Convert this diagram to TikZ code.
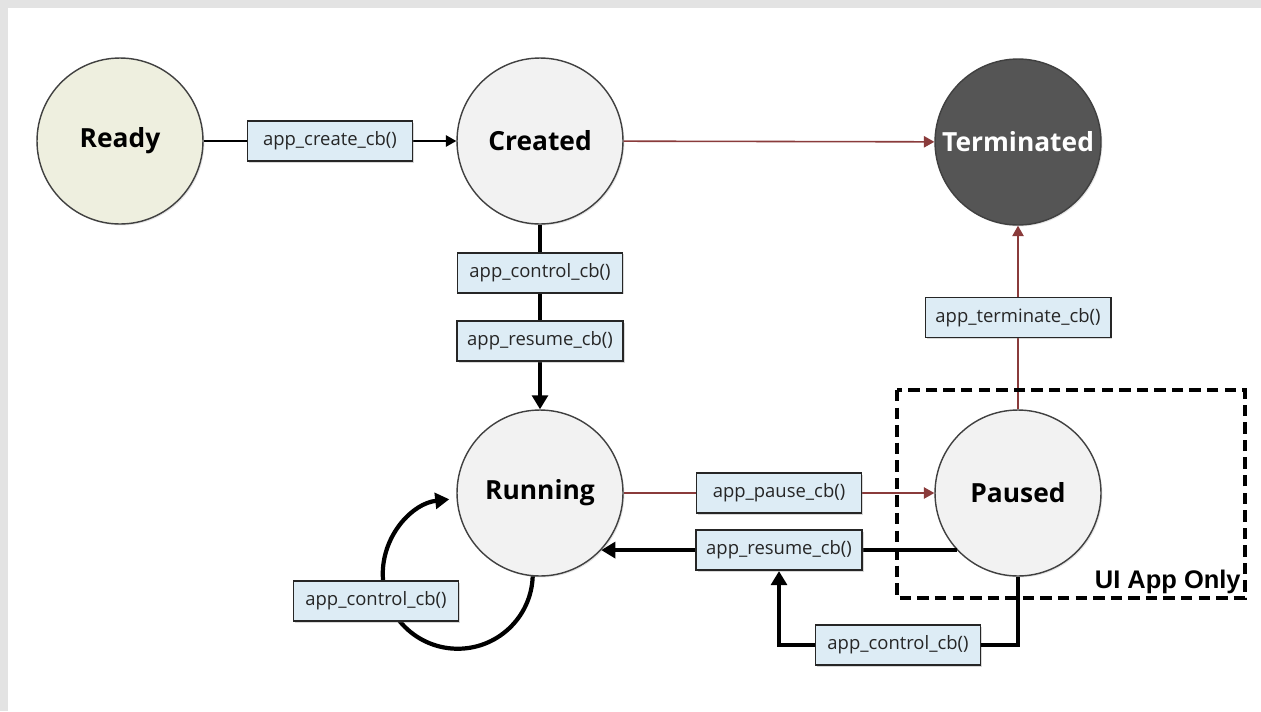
\documentclass[tikz,border=0pt]{standalone}
\usepackage{fontspec}
\newfontfamily\opensans{Open Sans}
\newfontfamily\arialfont{Liberation Sans}
\usetikzlibrary{arrows.meta, shadows}
\definecolor{readyfill}{HTML}{EEEFDF}
\definecolor{stategray}{HTML}{F2F2F2}
\definecolor{termfill}{HTML}{555555}
\definecolor{cbblue}{HTML}{DDECF5}
\definecolor{darkred}{HTML}{8A3B3B}
\tikzset{
    state/.style = {circle, draw=black!75, line width=0.8pt, fill=stategray, minimum size=3.32cm, inner sep=0pt,
        font=\opensans\bfseries\fontsize{15}{18}\selectfont,
        drop shadow={opacity=0.2, shadow xshift=0.8pt, shadow yshift=-0.8pt}},
    cb box/.style = {draw=black!85, line width=1.1pt, fill=cbblue, text=black!85, minimum width=3.3cm, minimum height=0.8cm,
        inner xsep=0.2cm, font=\opensans\fontsize{10.5}{12}\selectfont,
        drop shadow={opacity=0.3, shadow xshift=1pt, shadow yshift=-1pt}},
    thin arrow/.style = {line width=1pt, -{Triangle[length=6pt, width=6.5pt]}},
    red arrow/.style = {line width=0.9pt, darkred, -{Triangle[length=6pt, width=6.5pt]}},
    thick arrow/.style = {line width=2.4pt, -{Triangle[length=8pt, width=9pt]}},
    ui frame/.style = {line width=2pt, dash pattern=on 6.5pt off 3.5pt},
    ui label/.style = {inner sep=0pt, font=\arialfont\bfseries\fontsize{14.5}{16}\selectfont}
}
\begin{document}
\begin{tikzpicture}[x=0.02cm, y=-0.02cm]
        \useasboundingbox (0,0) rectangle (1261,711);
        \fill[gray!22] (0,0) rectangle (1261,711);
        \fill[white] (8,8) rectangle (1261,711);
        
        \node[state, fill=readyfill] (ready) at (120,141) {Ready};
        \node[state] (created) at (540,141) {Created};
        \node[state, fill=termfill, text=white] (terminated) at (1018,142) {Terminated};
        \node[state] (running) at (540,493) {Running};
        \node[state] (paused) at (1018,493) {Paused};
        
        \draw[thin arrow] (ready) -- node[cb box] (createcb) {app\_create\_cb()} (created);
        \draw[red arrow] (created) -- (terminated);
        \draw[thick arrow] (created) -- node[cb box, pos=0.26] (controlcb) {app\_control\_cb()} node[cb box, pos=0.63] (resumecb) {app\_resume\_cb()} (running);
        \draw[red arrow] (running) -- node[cb box] (pausecb) {app\_pause\_cb()} (paused);
        \draw[thick arrow] (paused.223.4) -- node[cb box] (resumecbb) {app\_resume\_cb()} (running.-43.4);
        \draw[red arrow] (paused) -- node[cb box] (terminatecb) {app\_terminate\_cb()} (terminated);
        
        \draw[thick arrow] (running.-95) arc[start angle=-2, end angle=-263.5, radius=1.5cm];
        \node[cb box] (runctrl) at (376,601) {app\_control\_cb()};
        
        \node[cb box] (pausectrl) at (898,645) {app\_control\_cb()};
        \draw[thick arrow] (paused.south) |- (pausectrl.east) (pausectrl.west) -| (resumecbb.south);
        
        \draw[ui frame] (897,390) rectangle (1245,598);
        \node[ui label, anchor=south east] (uionly) at (1241,594) {UI App Only};
    \end{tikzpicture}
\end{document}
